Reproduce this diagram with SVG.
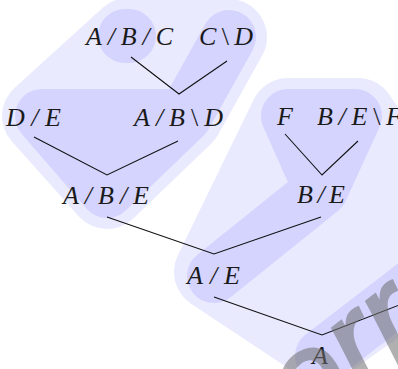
<svg xmlns="http://www.w3.org/2000/svg" width="398" height="369" viewBox="0 0 398 369">
  <style>
    .light { fill: #eaeaff; stroke: #eaeaff; stroke-width: 76; stroke-linejoin: round; stroke-linecap: round; }
    .dark { fill: #d4d4ff; stroke: #d4d4ff; stroke-width: 54; stroke-linejoin: round; stroke-linecap: round; }
    .lbl { font-family: "Liberation Serif", "DejaVu Serif", serif; font-style: italic; font-size: 26px; fill: #1a1a1a; }
    .up { font-style: normal; }
    .edge { stroke: #111; stroke-width: 1.1; fill: none; }
    .wm { font-family: "Liberation Sans", Arial, sans-serif; font-style: italic; font-size: 130px; fill: #707070; stroke: #707070; stroke-width: 3; opacity: 0.55; }
  </style>

  <rect width="398" height="369" fill="#ffffff"/>

  <!-- group highlights -->
  <g id="highlights">
    <path class="light" d="M128,36 L229,37 L185,116 L107,191 L40,116 Z"/>
    <path class="light" d="M288,116 L358,116 L450,255 L322,345 L212,272 Z"/>
    <path class="dark" d="M125,36 L129,36"/>
    <path class="dark" d="M42,116 L185,116 L229,37 L185,116 L107,191 Z"/>
    <path class="dark" d="M288,116 L355,116 L321,190 Z M321,190 L214,276"/>
    <path class="dark" d="M322,356 L460,250"/>
  </g>

  <!-- connectors -->
  <g id="connectors">
    <polyline class="edge" points="131,57 179,94 227,61"/>
    <polyline class="edge" points="34,137 107,175 178,141"/>
    <polyline class="edge" points="285,134 322,175 358,141"/>
    <polyline class="edge" points="107,217 214,254 321,217"/>
    <polyline class="edge" points="214,297 322,335 420,297"/>
  </g>

  <!-- nodes -->
  <g id="n-abc"><text class="lbl" x="86" y="45" textLength="87" lengthAdjust="spacing">A/B/C</text></g>
  <g id="n-cd"><text class="lbl" x="199" y="45" textLength="54" lengthAdjust="spacing">C<tspan class="up">\</tspan>D</text></g>
  <g id="n-de"><text class="lbl" x="6" y="126" textLength="55" lengthAdjust="spacing">D/E</text></g>
  <g id="n-abd"><text class="lbl" x="134" y="126" textLength="89" lengthAdjust="spacing">A/B<tspan class="up">\</tspan>D</text></g>
  <g id="n-f"><text class="lbl" x="277" y="125">F</text></g>
  <g id="n-bef"><text class="lbl" x="317" y="125" textLength="85" lengthAdjust="spacing">B/E<tspan class="up">\</tspan>F</text></g>
  <g id="n-be"><text class="lbl" x="297" y="203" textLength="48" lengthAdjust="spacing">B/E</text></g>
  <g id="n-abe"><text class="lbl" x="63" y="204" textLength="86" lengthAdjust="spacing">A/B/E</text></g>
  <g id="n-ae"><text class="lbl" x="187" y="284" textLength="53" lengthAdjust="spacing">A/E</text></g>
  <g id="n-a"><text class="lbl" x="312" y="364">A</text></g>

  <!-- watermark -->
  <text class="wm" transform="translate(306,436) rotate(-38)">error</text>
</svg>
